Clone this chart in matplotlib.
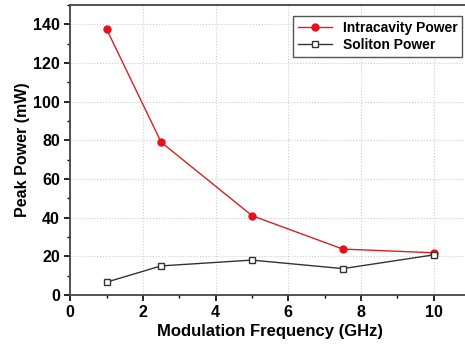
import matplotlib
matplotlib.use("Agg")
import matplotlib.pyplot as plt
from matplotlib.ticker import MultipleLocator

plt.rcParams["font.family"] = ["Liberation Sans", "DejaVu Sans"]
plt.rcParams["font.weight"] = "bold"

freq = [1, 2.5, 5, 7.5, 10]
intracavity = [137.5, 79, 41, 23.7, 21.8]
soliton = [6.6, 15, 18, 13.6, 20.7]

fig = plt.figure(figsize=(4.65, 3.49), dpi=100)
ax = fig.add_axes([0.151, 0.155, 0.86, 0.831])

ax.plot(freq, intracavity, color="#d82020", lw=1.0, marker="o", ms=5,
        mfc="#e8101c", mec="#e8101c", label="Intracavity Power", zorder=3)
ax.plot(freq, soliton, color="#333333", lw=1.0, marker="s", ms=4.2,
        mfc="white", mec="#333333", mew=1.0, label="Soliton Power", zorder=3)

ax.set_xlim(0, 11)
ax.set_ylim(0, 150)
ax.xaxis.set_major_locator(MultipleLocator(2))
ax.xaxis.set_minor_locator(MultipleLocator(1))
ax.yaxis.set_major_locator(MultipleLocator(20))
ax.yaxis.set_minor_locator(MultipleLocator(10))
ax.tick_params(which="major", direction="out", length=4, width=1.2, labelsize=11.5)
ax.tick_params(which="minor", direction="out", length=2.5, width=1)
ax.grid(True, which="major", ls=":", color="#cccccc", lw=0.8)
ax.set_axisbelow(True)
for side in ["left", "bottom", "top"]:
    ax.spines[side].set_linewidth(1.3)
    ax.spines[side].set_color("#444444")
ax.spines["right"].set_visible(False)

ax.set_xlabel("Modulation Frequency (GHz)", fontsize=12, fontweight="bold", labelpad=3)
ax.set_ylabel("Peak Power (mW)", fontsize=11.5, fontweight="bold", labelpad=2)

leg = ax.legend(loc="upper right", bbox_to_anchor=(0.998, 0.985), fontsize=10,
                fancybox=False, edgecolor="#555555", framealpha=1,
                handlelength=2.4, borderpad=0.35, labelspacing=0.2)
leg.get_frame().set_linewidth(1.0)

fig.savefig("out.png", dpi=100)
